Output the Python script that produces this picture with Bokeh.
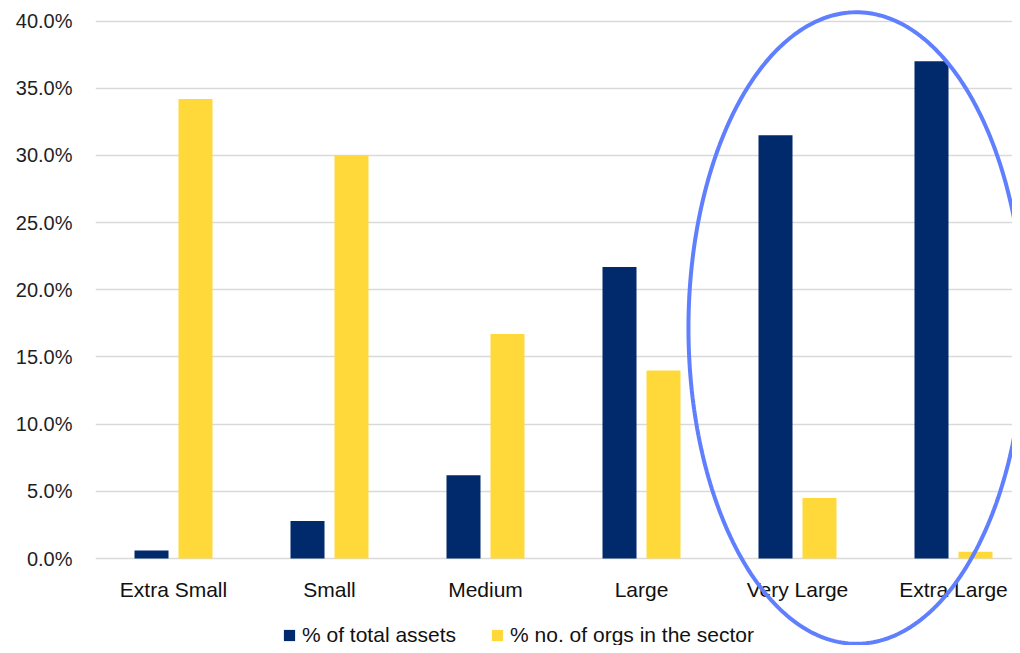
import numpy as np
from bokeh.plotting import figure
from bokeh.models import (ColumnDataSource, FixedTicker, PrintfTickFormatter, Legend,
                          LegendItem, PolyAnnotation, Range1d)
from bokeh.core.properties import value
from bokeh.embed import file_html
from bokeh.resources import INLINE

# ---- data ----
categories = ["Extra Small", "Small", "Medium", "Large", "Very Large", "Extra Large"]
pct_total_assets = [0.6, 2.8, 6.2, 21.7, 31.5, 37.0]
pct_orgs_in_sector = [34.2, 30.0, 16.7, 14.0, 4.5, 0.5]
series_names = ["% of total assets", "% no. of orgs in the sector"]
y_ticks = [0, 5, 10, 15, 20, 25, 30, 35, 40]

# highlight ellipse (data units: category index / percent)
ellipse_center = (4.878, 17.15)
ellipse_semi_axes = (1.077, 23.5)

# ---- style ----
NAVY = "#002A6C"
YELLOW = "#FFD93A"
GRID = "#D9D9D9"
RING = "#5F7FFF"
FONT = "Liberation Sans"
BAR_W = 0.218
OFFSET = 0.141
CAT_LABEL_Y = -2.31          # data units below the zero line

W, H = 1012, 645
LEFT = 95
X_END = (W - LEFT) / 156.0    # 156 px per category
PX_PER_PCT = 13.4375
Y_ZERO_PX = 558
Y_TOP = Y_ZERO_PX / PX_PER_PCT
Y_BOTTOM = -(H - Y_ZERO_PX) / PX_PER_PCT

idx = np.arange(len(categories)) + 0.5
src = ColumnDataSource(dict(
    x_a=idx - OFFSET, x_o=idx + OFFSET,
    assets=pct_total_assets, orgs=pct_orgs_in_sector,
))
lab_src = ColumnDataSource(dict(x=idx, y=[CAT_LABEL_Y] * len(categories), text=categories))

p = figure(width=W, height=H, output_backend="svg", toolbar_location=None,
           x_range=Range1d(0, X_END), y_range=Range1d(Y_BOTTOM, Y_TOP),
           min_border_left=LEFT, min_border_right=0, min_border_top=0,
           min_border_bottom=0)
p.outline_line_color = None
p.background_fill_color = "white"
p.border_fill_color = "white"
p.xaxis.visible = False

# grid
p.xgrid.grid_line_color = None
p.ygrid.grid_line_color = GRID
p.ygrid.grid_line_width = 1.5
p.ygrid.ticker = FixedTicker(ticks=y_ticks)

r1 = p.vbar(x="x_a", top="assets", bottom=0, width=BAR_W, source=src,
            fill_color=NAVY, line_color=None)
r2 = p.vbar(x="x_o", top="orgs", bottom=0, width=BAR_W, source=src,
            fill_color=YELLOW, line_color=None)

# y axis
p.yaxis.ticker = FixedTicker(ticks=y_ticks)
p.yaxis.formatter = PrintfTickFormatter(format="%.1f%%")
p.yaxis.axis_line_color = None
p.yaxis.major_tick_line_color = None
p.yaxis.minor_tick_line_color = None
p.yaxis.major_tick_out = 0
p.yaxis.major_label_standoff = 23
p.yaxis.major_label_text_font = FONT
p.yaxis.major_label_text_font_size = "20px"
p.yaxis.major_label_text_color = "#1F1F1F"

# category labels
p.text(x="x", y="y", text="text", source=lab_src, text_align="center",
       text_baseline="middle", text_font=value(FONT), text_font_size="21px",
       text_color="#111111")

# highlight ring
t = np.linspace(0, 2 * np.pi, 300)
ring = PolyAnnotation(
    xs=list(ellipse_center[0] + ellipse_semi_axes[0] * np.cos(t)),
    ys=list(ellipse_center[1] + ellipse_semi_axes[1] * np.sin(t)),
    xs_units="data", ys_units="data",
    fill_alpha=0, line_color=RING, line_alpha=1.0, line_width=4,
)
p.add_layout(ring)

legend = Legend(items=[LegendItem(label=series_names[0], renderers=[r1]),
                       LegendItem(label=series_names[1], renderers=[r2])],
                location=(187, -2), orientation="horizontal",
                glyph_width=14, glyph_height=14, label_standoff=6, spacing=34,
                padding=0, margin=0, border_line_color=None,
                background_fill_alpha=0,
                label_text_font=FONT, label_text_font_size="21px",
                label_text_color="#111111")
p.add_layout(legend, "center")

open("out.html", "w").write(file_html(p, INLINE))
